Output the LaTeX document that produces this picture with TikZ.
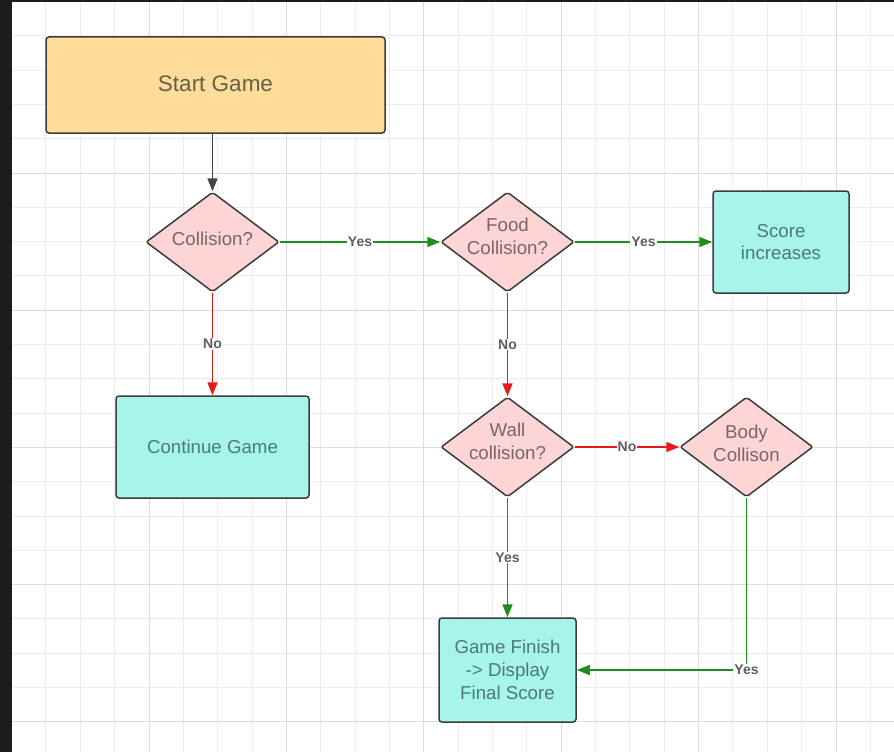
\documentclass[tikz,border=0pt]{standalone}
\usepackage{fontspec}
\setmainfont{Liberation Sans}
\usetikzlibrary{shapes.geometric,arrows.meta}
\definecolor{startfill}{HTML}{FEDD9B}
\definecolor{pinkfill}{HTML}{FDD5D5}
\definecolor{cyanfill}{HTML}{A6F4EB}
\definecolor{edgegreen}{HTML}{1E8E1E}
\definecolor{edgered}{HTML}{E51A1A}
\definecolor{bordergray}{HTML}{3C3C3C}
\definecolor{darkbar}{HTML}{1C1C1C}
\definecolor{gridminor}{HTML}{EDEDED}
\definecolor{gridmajor}{HTML}{DCDCDC}
\definecolor{starttext}{HTML}{675E48}
\definecolor{pinktext}{HTML}{7A6466}
\definecolor{cyantext}{HTML}{4B7A76}
\definecolor{lbltext}{HTML}{5E5E5E}
\definecolor{arrowgray}{HTML}{444444}
\begin{document}
\begin{tikzpicture}[x=1pt,y=-1pt,
  startbox/.style={draw=bordergray, line width=1.5pt, fill=startfill, rounded corners=3pt,
    text=starttext, font=\fontsize{22.5}{27}\selectfont, minimum width=339pt, minimum height=96pt},
  procbox/.style={draw=bordergray, line width=1.5pt, fill=cyanfill, rounded corners=3pt,
    text=cyantext, font=\fontsize{18.7}{22.8}\selectfont, align=center},
  decision/.style={diamond, draw=bordergray, line width=1.5pt, fill=pinkfill, rounded corners=2pt,
    inner sep=0pt, aspect=1.33, minimum width=133pt, minimum height=100pt},
  dtext/.style={text=pinktext, font=\fontsize{18.7}{22.8}\selectfont, align=center, inner sep=0pt},
  flow/.style={line width=1.7pt, -{Triangle[length=13pt,width=10pt]}},
  lbl/.style={fill=white, inner sep=1pt, text=lbltext, font=\fontsize{14}{16}\selectfont\bfseries}
]
\useasboundingbox (0,0) rectangle (894,752);
\fill[white] (0,0) rectangle (894,752);
% grid
\foreach \k in {1,...,25}
  \draw[gridminor, line width=1pt] ({11.6+34.35*\k},2) -- ({11.6+34.35*\k},752);
\foreach \k in {1,...,21}
  \draw[gridminor, line width=1pt] (11.5,{1.5+34.3*\k}) -- (894,{1.5+34.3*\k});
\foreach \k in {4,8,...,24}
  \draw[gridmajor, line width=1pt] ({11.6+34.35*\k},2) -- ({11.6+34.35*\k},752);
\foreach \k in {5,9,13,17,21}
  \draw[gridmajor, line width=1pt] (11.5,{1.5+34.3*\k}) -- (894,{1.5+34.3*\k});
\fill[darkbar] (0,0) rectangle (11.5,752);
\fill[darkbar] (0,0) rectangle (894,2);

% nodes
\node[startbox] (start) at (215.5,85) {\raisebox{3pt}{Start Game}};
\node[decision] (col) at (212.5,242) {};
\node[dtext] (colT) at (212.5,239) {Collision?};
\node[decision] (food) at (507.5,242) {};
\node[dtext] (foodT) at (507.5,236) {Food\\Collision?};
\node[decision] (wall) at (507.5,447) {};
\node[dtext] (wallT) at (507.5,441) {Wall\\collision?};
\node[decision] (body) at (746.5,447) {};
\node[dtext] (bodyT) at (746.5,443.5) {Body\\Collison};
\node[procbox, minimum width=136pt, minimum height=102pt] (score) at (781,242) {Score\\increases};
\node[procbox, minimum width=193pt, minimum height=102pt] (cont) at (212.5,447) {Continue Game};
\node[procbox, minimum width=137pt, minimum height=104pt] (fin) at (507.5,670) {Game Finish\\-> Display\\Final Score};

% connectors
\draw[flow, arrowgray] (start.south -| col.north) -- (col.north);
\draw[flow, edgegreen] (col.east) -- node[lbl]{Yes} (food.west);
\draw[flow, edgegreen] (food.east) -- node[lbl]{Yes} (score.west);
\draw[flow, edgered] (col.south) -- node[lbl]{No} (cont.north);
\draw[flow, edgered] (food.south) -- node[lbl]{No} (wall.north);
\draw[flow, edgered] (wall.east) -- node[lbl]{No} (body.west);
\draw[flow, edgegreen] (wall.south) -- node[lbl]{Yes} (fin.north);
\draw[flow, edgegreen] (body.south) |- node[lbl, pos=0.5]{Yes} (fin.east);
\end{tikzpicture}
\end{document}
